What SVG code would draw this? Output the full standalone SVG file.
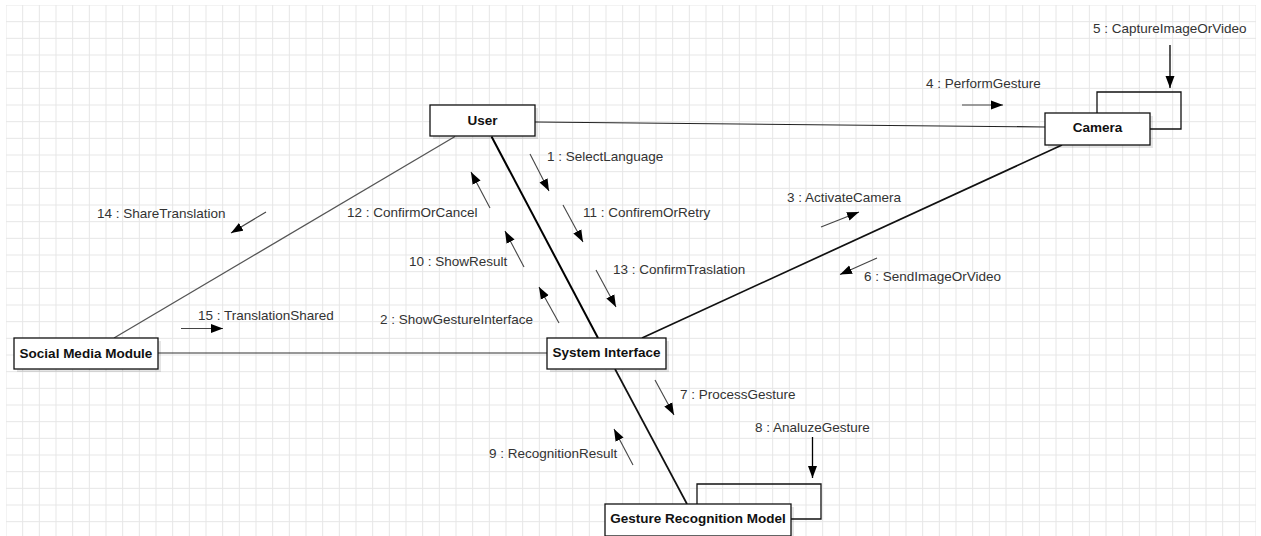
<svg xmlns="http://www.w3.org/2000/svg" width="1261" height="536" viewBox="0 0 1261 536">
<style>
.lbl{font-family:"Liberation Sans",Arial,sans-serif;font-size:13.5px;fill:#333}
.nt{font-family:"Liberation Sans",Arial,sans-serif;font-size:13.5px;font-weight:bold;fill:#111;text-anchor:middle}
.box{fill:#fff;stroke:#111;stroke-width:1.3}
.shd{fill:#000;opacity:0.1}
.loop{fill:none;stroke:#111;stroke-width:1.3}
.msg{stroke:#444;stroke-width:1.1;fill:none;marker-end:url(#ah)}
.self{stroke:#000;stroke-width:1.3;fill:none;marker-end:url(#ah)}
</style>
<defs>
<pattern id="grid" x="5.5" y="4.5" width="16.667" height="16.667" patternUnits="userSpaceOnUse">
<path d="M0.5 0 V16.667 M0 0.5 H16.667" stroke="#e6e6e6" stroke-width="1" fill="none"/>
</pattern>
<marker id="ah" markerUnits="userSpaceOnUse" markerWidth="13" markerHeight="10" refX="12" refY="5" orient="auto">
<path d="M0,0.5 L12,5 L0,9.5 z" fill="#000"/>
</marker>
</defs>
<rect width="1261" height="536" fill="#fff"/>
<rect x="6" y="5" width="1250" height="531" fill="url(#grid)"/>

<g id="connectors">
<line x1="535" y1="122" x2="1045" y2="127" stroke="#222" stroke-width="1.2"/>
<line x1="491.5" y1="136.5" x2="598" y2="338" stroke="#000" stroke-width="2"/>
<line x1="455" y1="136.5" x2="114" y2="338" stroke="#555" stroke-width="1.3"/>
<line x1="158" y1="353" x2="547" y2="353" stroke="#333" stroke-width="1.2"/>
<line x1="642" y1="338" x2="1062" y2="145" stroke="#111" stroke-width="1.7"/>
<line x1="615" y1="369" x2="687" y2="504" stroke="#111" stroke-width="1.7"/>
</g>

<g id="messages">
<line class="msg" x1="530" y1="154" x2="549" y2="191"/>
<text class="lbl" x="547" y="160.5">1 : SelectLanguage</text>
<line class="msg" x1="563" y1="205" x2="583" y2="242"/>
<text class="lbl" x="583" y="216.5">11 : ConfiremOrRetry</text>
<line class="msg" x1="596" y1="270" x2="616" y2="307"/>
<text class="lbl" x="613" y="273.5">13 : ConfirmTraslation</text>
<line class="msg" x1="490" y1="208" x2="471" y2="172"/>
<text class="lbl" x="347" y="216.5">12 : ConfirmOrCancel</text>
<line class="msg" x1="524" y1="267" x2="505" y2="231"/>
<text class="lbl" x="409" y="265.5">10 : ShowResult</text>
<line class="msg" x1="559" y1="323" x2="539" y2="287"/>
<text class="lbl" x="380" y="323.5">2 : ShowGestureInterface</text>
<line class="msg" x1="266" y1="212" x2="231" y2="233"/>
<text class="lbl" x="97" y="217.5">14 : ShareTranslation</text>
<line class="msg" x1="181" y1="328.5" x2="223" y2="328.5"/>
<text class="lbl" x="198" y="319.5">15 : TranslationShared</text>
<line class="msg" x1="821" y1="227" x2="859" y2="212"/>
<text class="lbl" x="787" y="201.5">3 : ActivateCamera</text>
<line class="msg" x1="877" y1="258" x2="840" y2="274.5"/>
<text class="lbl" x="864" y="280.5">6 : SendImageOrVideo</text>
<line class="msg" x1="962" y1="105" x2="1003" y2="105"/>
<text class="lbl" x="926" y="87.5">4 : PerformGesture</text>
<line class="msg" x1="655" y1="380" x2="674" y2="415"/>
<text class="lbl" x="680" y="398.5">7 : ProcessGesture</text>
<line class="msg" x1="633" y1="465" x2="614" y2="429"/>
<text class="lbl" x="489" y="457.5">9 : RecognitionResult</text>
<line class="self" x1="1170" y1="45" x2="1170" y2="88"/>
<text class="lbl" x="1093" y="33">5 : CaptureImageOrVideo</text>
<line class="self" x1="812.5" y1="437" x2="812.5" y2="478"/>
<text class="lbl" x="755" y="431.5">8 : AnaluzeGesture</text>
</g>

<g id="node-user">
<rect class="shd" x="433" y="108" width="105" height="31"/>
<rect class="box" x="430" y="105" width="105" height="31"/>
<text class="nt" x="482.5" y="125">User</text>
</g>

<g id="node-camera">
<path class="loop" d="M1097 113 V92 H1181 V129 H1150"/>
<rect class="shd" x="1048" y="116" width="105" height="32"/>
<rect class="box" x="1045" y="113" width="105" height="32"/>
<text class="nt" x="1097.5" y="132">Camera</text>
</g>

<g id="node-social">
<rect class="shd" x="17" y="341" width="144" height="31"/>
<rect class="box" x="14" y="338" width="144" height="31"/>
<text class="nt" x="86" y="358">Social Media Module</text>
</g>

<g id="node-system">
<rect class="shd" x="550" y="341" width="119" height="31"/>
<rect class="box" x="547" y="338" width="119" height="31"/>
<text class="nt" x="606.5" y="356.5">System Interface</text>
</g>

<g id="node-gesture">
<path class="loop" d="M697 504 V484 H821 V519 H791"/>
<rect class="shd" x="608" y="507" width="186" height="32"/>
<rect class="box" x="605" y="504" width="186" height="32"/>
<text class="nt" x="698" y="523">Gesture Recognition Model</text>
</g>
</svg>
